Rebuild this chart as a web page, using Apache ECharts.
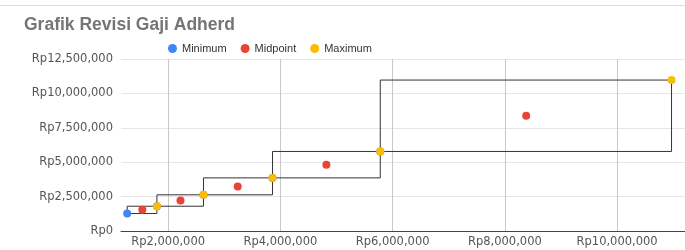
<!DOCTYPE html>
<html>
<head>
<meta charset="utf-8">
<script src="https://cdn.jsdelivr.net/npm/echarts@6/dist/echarts.min.js"></script>
<style>
  html, body { margin: 0; padding: 0; background: #fff; }
  #chart { width: 685px; height: 250px; }
</style>
</head>
<body>
<div id="chart"></div>
<script>
// salary grades (x = y = salary)
const minimum = [1270000, 1800000, 2630000, 3860000, 5780000];
const midpoint = [1540000, 2220000, 3240000, 4820000, 8380000];
const maximum = [1800000, 2630000, 3860000, 5780000, 10970000];
const xTicks = [2000000, 4000000, 6000000, 8000000, 10000000];

const rp = v => 'Rp' + Number(v).toLocaleString('en-US');
const pts = arr => arr.map(v => [v, v]);

const chart = echarts.init(document.getElementById('chart'));

chart.setOption({
  animation: false,
  textStyle: { fontFamily: 'Liberation Sans, Arial, sans-serif' },
  title: {
    text: 'Grafik Revisi Gaji Adherd',
    left: 19, top: 11,
    textStyle: { fontSize: 17.5, fontWeight: 'bold', color: '#757575' }
  },
  legend: {
    data: ['Minimum', 'Midpoint', 'Maximum'],
    top: 38, left: 163,
    icon: 'circle', itemWidth: 9, itemHeight: 9, itemGap: 14,
    textStyle: { fontSize: 11, color: '#333' }
  },
  graphic: [{
    type: 'rect', shape: { x: 0, y: 5, width: 685, height: 1 },
    style: { fill: '#dcdcdc' }, silent: true
  }],
  grid: { left: 121, right: 0, top: 59, bottom: 19 },
  xAxis: {
    type: 'value',
    min: 1160000, max: 11210000,
    axisLine: { show: true, lineStyle: { color: '#444' } },
    axisTick: { show: false, customValues: xTicks },
    axisLabel: {
      customValues: xTicks, formatter: rp,
      fontFamily: 'DejaVu Sans', fontSize: 11.5, color: '#555', margin: 5
    },
    splitLine: { show: true, customValues: xTicks, lineStyle: { color: '#c8c8c8' } }
  },
  yAxis: {
    type: 'value',
    min: 0, max: 12500000, interval: 2500000,
    axisLine: { show: false },
    axisTick: { show: false },
    axisLabel: { formatter: rp, fontFamily: 'DejaVu Sans', fontSize: 11.5, color: '#555', margin: 8 },
    splitLine: { lineStyle: { color: '#e6e6e6' } }
  },
  series: [
    {
      name: 'grades',
      type: 'custom',
      silent: true,
      data: minimum.map((v, i) => [v, maximum[i]]),
      renderItem: (params, api) => {
        const p0 = api.coord([api.value(0), api.value(0)]);
        const p1 = api.coord([api.value(1), api.value(1)]);
        return {
          type: 'rect',
          shape: { x: p0[0], y: p1[1], width: p1[0] - p0[0], height: p0[1] - p1[1] },
          style: { fill: 'none', stroke: '#333', lineWidth: 1 }
        };
      },
      z: 1
    },
    {
      name: 'Minimum', type: 'scatter', data: pts(minimum),
      symbolSize: 8, itemStyle: { color: '#4285F4', opacity: 1 }, z: 2
    },
    {
      name: 'Midpoint', type: 'scatter', data: pts(midpoint),
      symbolSize: 8, itemStyle: { color: '#EA4335', opacity: 1 }, z: 3
    },
    {
      name: 'Maximum', type: 'scatter', data: pts(maximum),
      symbolSize: 8, itemStyle: { color: '#FBBC04', opacity: 1 }, z: 4
    }
  ]
});
</script>
</body>
</html>
